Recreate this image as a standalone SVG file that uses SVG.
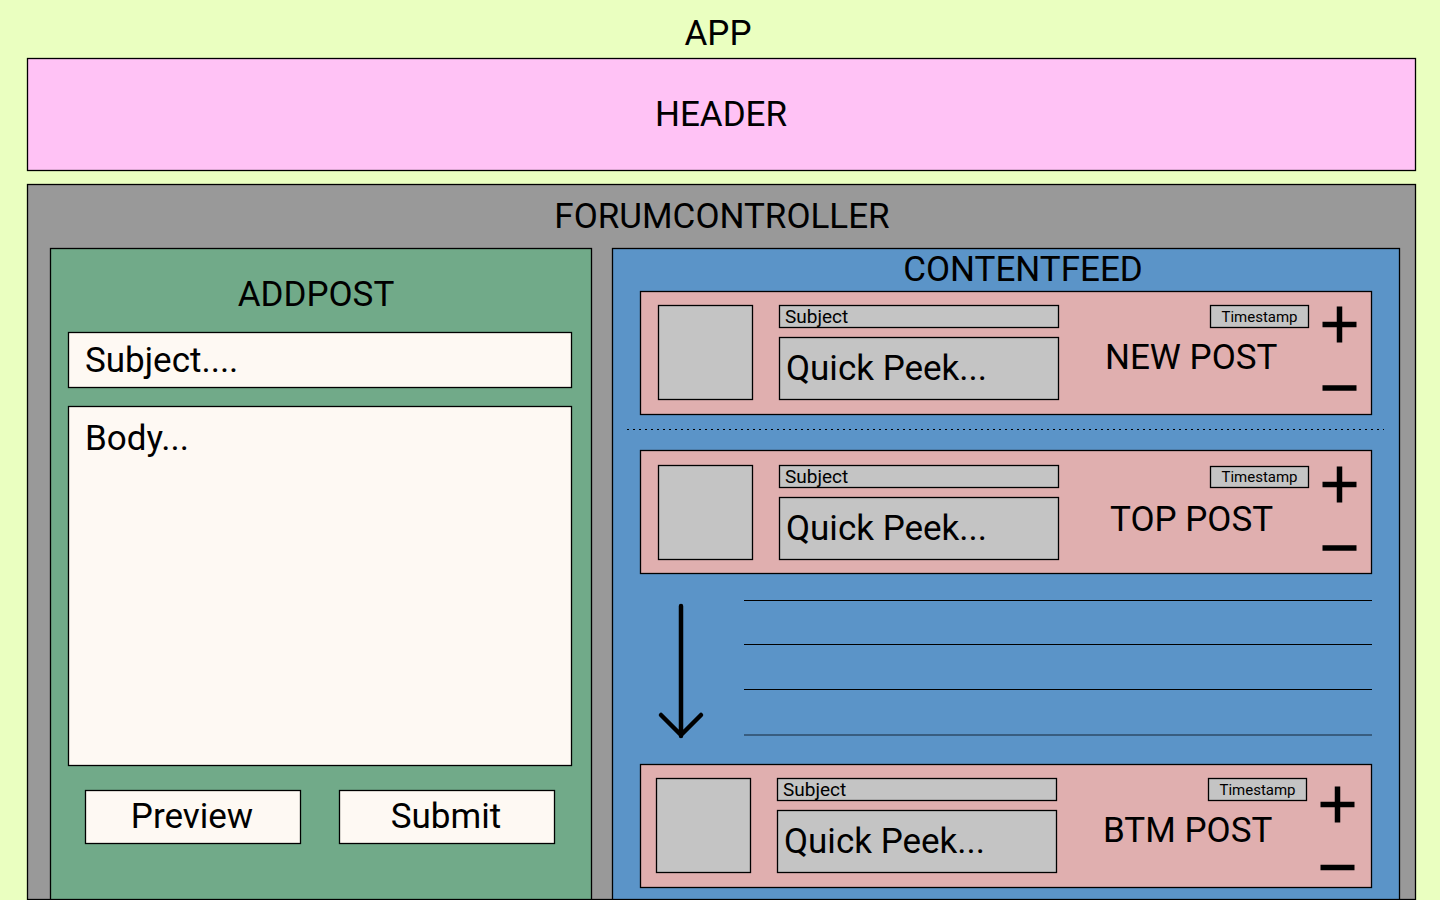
<svg xmlns="http://www.w3.org/2000/svg" width="1440" height="900" viewBox="0 0 1440 900">
<style>
text{font-family:Roboto,"Liberation Sans",sans-serif;fill:#000}
.box{stroke:#000;stroke-width:1.3}
.big{font-size:35px}
.mid{font-size:35px}
.sm{font-size:19px}
.ts{font-size:15px}
.c{text-anchor:middle}
.card{fill:#E0AFAF}
.g{fill:#C4C4C4}
.in{fill:#FEF9F3}
.pm{stroke:#000;stroke-width:5.5;fill:none}
</style>
<rect x="0" y="0" width="1440" height="900" fill="#EAFFC0"/>
<g id="app"><text class="big c" x="718" y="45">APP</text></g>
<g id="header">
<rect class="box" x="27.5" y="58.5" width="1388" height="112" fill="#FFC2F5"/>
<text class="big c" x="721" y="126">HEADER</text>
</g>
<g id="forumcontroller">
<rect class="box" x="27.5" y="184.5" width="1388" height="715" fill="#999999"/>
<text class="big c" x="722" y="228">FORUMCONTROLLER</text>
</g>
<g id="addpost">
<rect class="box" x="50.5" y="248.5" width="541" height="651" fill="#71AA89"/>
<text class="big c" x="316" y="306">ADDPOST</text>
<rect class="box in" x="68.5" y="332.5" width="503" height="55"/>
<text class="mid" x="85" y="372">Subject....</text>
<rect class="box in" x="68.5" y="406.5" width="503" height="359"/>
<text class="mid" x="85" y="450">Body...</text>
<rect class="box in" x="85.5" y="790.5" width="215" height="53"/>
<text class="mid c" x="192" y="828">Preview</text>
<rect class="box in" x="339.5" y="790.5" width="215" height="53"/>
<text class="mid c" x="446" y="828">Submit</text>
</g>
<g id="contentfeed">
<rect class="box" x="612.5" y="248.5" width="787" height="651" fill="#5B94C8"/>
<text class="big c" x="1023" y="281">CONTENTFEED</text>
</g>
<g id="newpost">
<rect class="box card" x="640.5" y="291.5" width="731" height="123"/>
<rect class="box g" x="658.5" y="305.5" width="94" height="94"/>
<rect class="box g" x="779.5" y="305.5" width="279" height="22"/>
<text class="sm" x="785" y="323">Subject</text>
<rect class="box g" x="779.5" y="337.5" width="279" height="62"/>
<text class="mid" x="786" y="380">Quick Peek...</text>
<rect class="box g" x="1210.5" y="305.5" width="98" height="22"/>
<text class="ts c" x="1259.5" y="322">Timestamp</text>
<text class="mid" x="1105" y="369">NEW POST</text>
<path class="pm" d="M1339.5 306.5V342.5M1322.5 324.5H1356.5M1322.5 388H1356.5"/>
</g>
<g id="toppost">
<rect class="box card" x="640.5" y="450.5" width="731" height="123"/>
<rect class="box g" x="658.5" y="465.5" width="94" height="94"/>
<rect class="box g" x="779.5" y="465.5" width="279" height="22"/>
<text class="sm" x="785" y="483">Subject</text>
<rect class="box g" x="779.5" y="497.5" width="279" height="62"/>
<text class="mid" x="786" y="540">Quick Peek...</text>
<rect class="box g" x="1210.5" y="466.5" width="98" height="21"/>
<text class="ts c" x="1259.5" y="482">Timestamp</text>
<text class="mid" x="1110" y="531">TOP POST</text>
<path class="pm" d="M1339.5 466.5V502.5M1322.5 484.5H1356.5M1322.5 548H1356.5"/>
</g>
<g id="btmpost">
<rect class="box card" x="640.5" y="764.5" width="731" height="123"/>
<rect class="box g" x="656.5" y="778.5" width="94" height="94"/>
<rect class="box g" x="777.5" y="778.5" width="279" height="22"/>
<text class="sm" x="783" y="796">Subject</text>
<rect class="box g" x="777.5" y="810.5" width="279" height="62"/>
<text class="mid" x="784" y="853">Quick Peek...</text>
<rect class="box g" x="1208.5" y="778.5" width="98" height="22"/>
<text class="ts c" x="1257.5" y="795">Timestamp</text>
<text class="mid" x="1103" y="842">BTM POST</text>
<path class="pm" d="M1337.5 786.5V822.5M1320.5 804.5H1354.5M1320.5 867.5H1354.5"/>
</g>
<g id="connectors">
<line x1="627" y1="429.5" x2="1384" y2="429.5" stroke="#000" stroke-width="1" stroke-dasharray="2,4"/>
<line x1="744" y1="600.5" x2="1372" y2="600.5" stroke="#000" stroke-width="1.2"/>
<line x1="744" y1="644.5" x2="1372" y2="644.5" stroke="#000" stroke-width="1.2"/>
<line x1="744" y1="689.5" x2="1372" y2="689.5" stroke="#000" stroke-width="1.2"/>
<line x1="744" y1="735" x2="1372" y2="735" stroke="#2D4B68" stroke-width="1.6"/>
<path d="M681 606V736M661 715L681 735L701 715" stroke="#000" stroke-width="4.5" fill="none" stroke-linecap="round" stroke-linejoin="round"/>
</g>
</svg>
